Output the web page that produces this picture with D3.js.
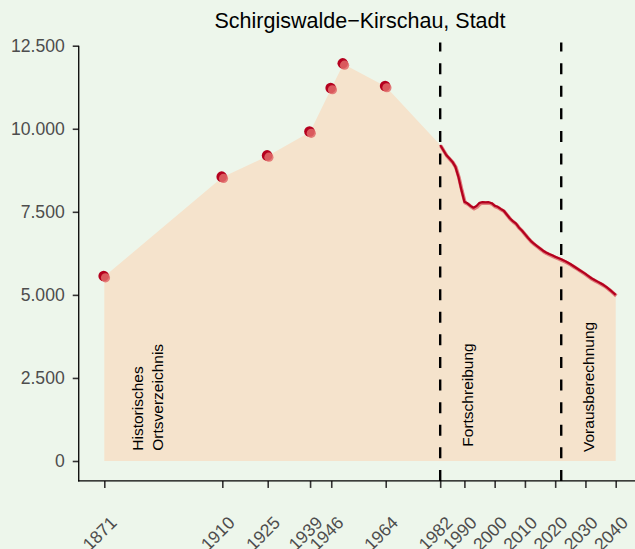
<!DOCTYPE html>
<html>
<head>
<meta charset="utf-8">
<script src="https://cdn.jsdelivr.net/npm/d3@7"></script>
<style>
  body { margin: 0; background: #edf6eb; }
  svg { display: block; font-family: "Liberation Sans", Arial, sans-serif; }
</style>
</head>
<body>
<div id="chart"></div>
<script>
// historic census points (Historisches Ortsverzeichnis)
let histYears = [1871, 1910, 1925, 1939, 1946, 1950, 1964];
let histPop   = [5550, 8540, 9180, 9900, 11210, 11950, 11270];

// annual values 1982-2022 (Fortschreibung)
let fortYears = [1982, 1983, 1984, 1985, 1986, 1987, 1988, 1989, 1990, 1991,
                 1992, 1993, 1994, 1995, 1996, 1997, 1998, 1999, 2000, 2001,
                 2002, 2003, 2004, 2005, 2006, 2007, 2008, 2009, 2010, 2011,
                 2012, 2013, 2014, 2015, 2016, 2017, 2018, 2019, 2020, 2021, 2022];
let fortPop   = [9510, 9360, 9210, 9110, 9010, 8860, 8560, 8160, 7805, 7756,
                 7680, 7624, 7675, 7770, 7790, 7787, 7790, 7760, 7684, 7650,
                 7590, 7534, 7420, 7305, 7220, 7150, 7030, 6940, 6830, 6720,
                 6620, 6540, 6471, 6400, 6330, 6275, 6230, 6190, 6149, 6110, 6070];

// projection 2023-2040 (Vorausberechnung)
let vorYears = [2023, 2024, 2025, 2026, 2027, 2028, 2029, 2030, 2031,
                2032, 2033, 2034, 2035, 2036, 2037, 2038, 2039, 2040];
let vorPop   = [6030, 5980, 5930, 5870, 5810, 5750, 5690, 5630, 5565,
                5500, 5450, 5400, 5350, 5297, 5230, 5160, 5080, 5000];

let xTicks = [1871, 1910, 1925, 1939, 1946, 1964, 1982, 1990, 2000, 2010, 2020, 2030, 2040];
let yTicks = [0, 2500, 5000, 7500, 10000, 12500];
let breaks = [1982, 2022];
let title  = "Schirgiswalde\u2212Kirschau, Stadt";

let width  = 635,
    height = 549;

let histData = histYears.map(function(d, i) { return {year: d, pop: histPop[i]}; });
let fortData = fortYears.map(function(d, i) { return {year: d, pop: fortPop[i]}; });
let vorData  = vorYears.map(function(d, i) { return {year: d, pop: vorPop[i]}; });
let lineData = fortData.concat(vorData);
let allData  = histData.concat(lineData);

let x =
  d3.scaleLinear()
    .domain([1871, 2040])
    .range([104.3, 615.7]);

let y =
  d3.scaleLinear()
    .domain([0, 12500])
    .range([461, 45.7]);

// panel limits (ggplot-like 5% expansion)
let panelLeft   = x(1871 - 169 * 0.05),
    panelBottom = y(-12000 * 0.05),
    panelTop    = y(12000 * 1.05);

let de = d3.formatLocale({decimal: ",", thousands: ".", grouping: [3], currency: ["", "€"]});

let svg =
  d3.select("#chart")
    .append("svg")
      .attr("width", width)
      .attr("height", height);

svg.append("rect")
    .attr("width", width)
    .attr("height", height)
    .attr("fill", "#edf6eb");

let area =
  d3.area()
    .x(function(d) { return x(d.year); })
    .y0(y(0))
    .y1(function(d) { return y(d.pop); });

svg.append("path")
    .datum(allData)
    .attr("fill", "#f5e3cc")
    .attr("d", area);

// phase labels
let labels = [
  {text: "Historisches",     bx: x(1883.7), by: 450.7},
  {text: "Ortsverzeichnis",  bx: x(1890.5), by: 450.7},
  {text: "Fortschreibung",   bx: x(1982) + 32.5, by: 446.7},
  {text: "Vorausberechnung", bx: x(2022) + 32.5, by: 452}
];

svg.selectAll(".phase")
  .data(labels)
  .enter().append("text")
    .attr("class", "phase")
    .attr("transform", function(d) { return "translate(" + d.bx + "," + d.by + ") rotate(-90)"; })
    .attr("font-size", "15.5px")
    .attr("fill", "#000")
    .text(function(d) { return d.text; });

// dashed separators
svg.selectAll(".brk")
  .data(breaks)
  .enter().append("line")
    .attr("class", "brk")
    .attr("x1", function(d) { return x(d); })
    .attr("x2", function(d) { return x(d); })
    .attr("y1", panelBottom)
    .attr("y2", panelTop)
    .attr("stroke", "#000")
    .attr("stroke-width", 2.4)
    .attr("stroke-dasharray", "11,11.6");

let line =
  d3.line()
    .x(function(d) { return x(d.year); })
    .y(function(d) { return y(d.pop); });

svg.append("path")
    .datum(lineData)
    .attr("fill", "none")
    .attr("stroke", "#e07a7a")
    .attr("stroke-width", 3.6)
    .attr("stroke-linejoin", "round")
    .attr("transform", "translate(0.6,0.9)")
    .attr("d", line);

svg.append("path")
    .datum(lineData)
    .attr("fill", "none")
    .attr("stroke", "#b3001e")
    .attr("stroke-width", 2.2)
    .attr("stroke-linejoin", "round")
    .attr("d", line);

let pts = svg.selectAll(".pt")
  .data(histData)
  .enter().append("g")
    .attr("class", "pt")
    .attr("transform", function(d) { return "translate(" + x(d.year) + "," + y(d.pop) + ")"; });

pts.append("circle")
    .attr("r", 5.3)
    .attr("cx", -0.6)
    .attr("cy", -0.6)
    .attr("fill", "#b5001e");

pts.append("circle")
    .attr("r", 4.6)
    .attr("cx", 1.2)
    .attr("cy", 1.2)
    .attr("fill", "#e06868")
    .attr("fill-opacity", 0.85);

// y axis
let yAxis = svg.append("g")
    .attr("transform", "translate(" + panelLeft + ",0)")
    .call(d3.axisLeft(y).tickValues(yTicks).tickFormat(de.format(",")).tickSize(6).tickPadding(8));
yAxis.select(".domain").remove();
yAxis.selectAll(".tick line").attr("stroke", "#333").attr("stroke-width", 1.6);
yAxis.selectAll(".tick text")
    .attr("fill", "#4d4d4d")
    .attr("font-size", "17.6px")
    .attr("font-family", "Liberation Sans, Arial, sans-serif");

svg.append("line")
    .attr("x1", panelLeft).attr("x2", panelLeft)
    .attr("y1", y(12500)).attr("y2", panelBottom + 0.5)
    .attr("stroke", "#000")
    .attr("stroke-width", 1.3);

// x axis
let xAxis = svg.append("g")
    .attr("transform", "translate(0," + panelBottom + ")")
    .call(d3.axisBottom(x).tickValues(xTicks).tickFormat(d3.format("d")).tickSize(7));
xAxis.select(".domain").remove();
xAxis.selectAll(".tick line").attr("stroke", "#333").attr("stroke-width", 1.6);
xAxis.selectAll(".tick text")
    .attr("fill", "#4d4d4d")
    .attr("font-size", "17.6px")
    .attr("font-family", "Liberation Sans, Arial, sans-serif")
    .attr("text-anchor", "end")
    .attr("dy", 0)
    .attr("y", 0)
    .attr("transform", "translate(13,43) rotate(-45)");

svg.append("line")
    .attr("x1", panelLeft - 0.6).attr("x2", width)
    .attr("y1", panelBottom).attr("y2", panelBottom)
    .attr("stroke", "#000")
    .attr("stroke-width", 1.3);

svg.append("text")
    .attr("x", (panelLeft + x(2040 + 169 * 0.05)) / 2)
    .attr("y", 28)
    .attr("text-anchor", "middle")
    .attr("font-size", "21.5px")
    .attr("fill", "#000")
    .text(title);
</script>
</body>
</html>
